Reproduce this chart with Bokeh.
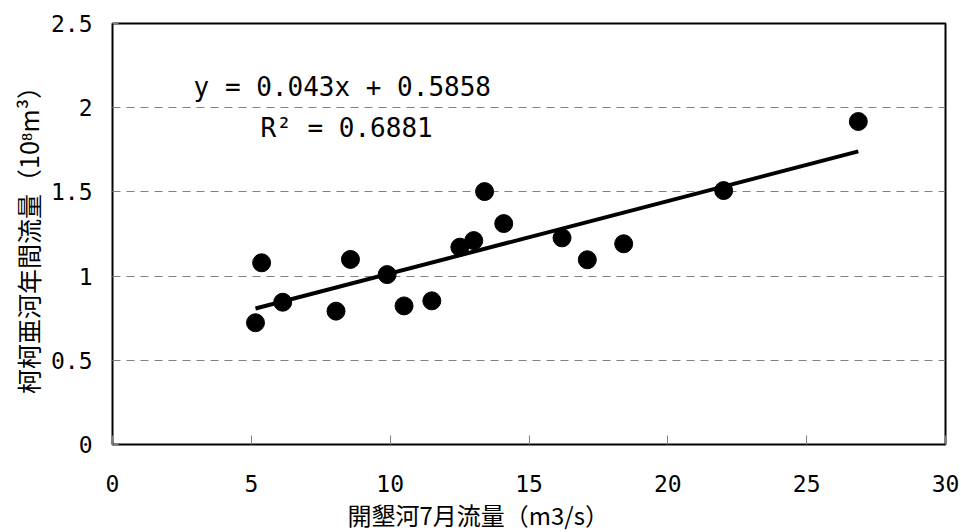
from bokeh.plotting import figure
from bokeh.models import Range1d, FixedTicker, Label, ColumnDataSource, Title
from bokeh.embed import file_html
from bokeh.resources import INLINE

# ---- data ----
x_flow = [5.15, 5.37, 6.13, 8.05, 8.57, 9.89, 10.5, 11.5, 12.51, 13.01,
          13.40, 14.09, 16.19, 17.10, 18.41, 22.01, 26.86]
y_flow = [0.723, 1.079, 0.845, 0.792, 1.099, 1.009, 0.823, 0.853, 1.172, 1.211,
          1.502, 1.312, 1.227, 1.097, 1.192, 1.508, 1.918]
slope = 0.043
intercept = 0.5858
x_ticks = [0, 5, 10, 15, 20, 25, 30]
x_tick_labels = ["0", "5", "10", "15", "20", "25", "30"]
y_ticks = [0, 0.5, 1, 1.5, 2, 2.5]
y_tick_labels = ["0", "0.5", "1", "1.5", "2", "2.5"]
eq_text = "y = 0.043x + 0.5858"
r2_text = "R² = 0.6881"
x_title = "開墾河7月流量（m3/s）"
y_title = "柯柯亜河年間流量（10⁸m³）"

CJK = "Noto Sans CJK JP"
NUM = "DejaVu Sans Mono"

p = figure(width=961, height=532, x_range=Range1d(0, 30), y_range=Range1d(0, 2.5),
           output_backend="svg", toolbar_location=None,
           min_border_left=112, min_border_right=16, min_border_top=23, min_border_bottom=88)
p.background_fill_color = "white"
p.border_fill_color = "white"
p.outline_line_color = "black"
p.outline_line_width = 2

# axes
p.xaxis.ticker = FixedTicker(ticks=x_ticks)
p.yaxis.ticker = FixedTicker(ticks=y_ticks)
p.xaxis.major_label_overrides = dict(zip(x_ticks, x_tick_labels))
p.yaxis.major_label_overrides = dict(zip(y_ticks, y_tick_labels))
for ax in (p.xaxis, p.yaxis):
    ax.axis_line_color = None
    ax.minor_tick_line_color = None
    ax.major_tick_out = 0
    ax.major_tick_line_color = "#808080"
    ax.major_label_text_font = NUM
    ax.major_label_text_font_size = "23px"
    ax.major_label_text_color = "black"
p.xaxis.major_tick_in = 9
p.yaxis.major_tick_in = 6
p.xaxis.major_label_standoff = 30
p.yaxis.major_label_standoff = 20

p.yaxis.axis_label = y_title
p.yaxis.axis_label_text_font = CJK
p.yaxis.axis_label_text_font_size = "25px"
p.yaxis.axis_label_text_font_style = "normal"
p.yaxis.axis_label_text_color = "black"
p.yaxis.axis_label_standoff = 2

# x axis title, placed below the axis
p.add_layout(Title(text=x_title, align="left", offset=235, standoff=0,
                   text_font=CJK, text_font_size="24px", text_font_style="normal",
                   text_color="black"), "below")

# grid
p.xgrid.grid_line_color = None
p.ygrid.ticker = FixedTicker(ticks=y_ticks)
p.ygrid.grid_line_color = "#808080"
p.ygrid.grid_line_dash = "8 6"
p.ygrid.grid_line_width = 1

# data
src = ColumnDataSource(dict(x=x_flow, y=y_flow))
p.scatter("x", "y", source=src, size=18, fill_color="black", line_color="black")

# trend line
xl = [min(x_flow), max(x_flow)]
yl = [slope * v + intercept for v in xl]
p.line(xl, yl, line_color="black", line_width=4)

# annotations
p.add_layout(Label(x=2.92, y=2.12, text=eq_text, text_font=NUM, text_font_size="26px",
                   text_baseline="middle", text_align="left", text_color="black"))
p.add_layout(Label(x=5.33, y=1.882, text=r2_text, text_font=NUM, text_font_size="26px",
                   text_baseline="middle", text_align="left", text_color="black"))

open("out.html", "w").write(file_html(p, INLINE))
